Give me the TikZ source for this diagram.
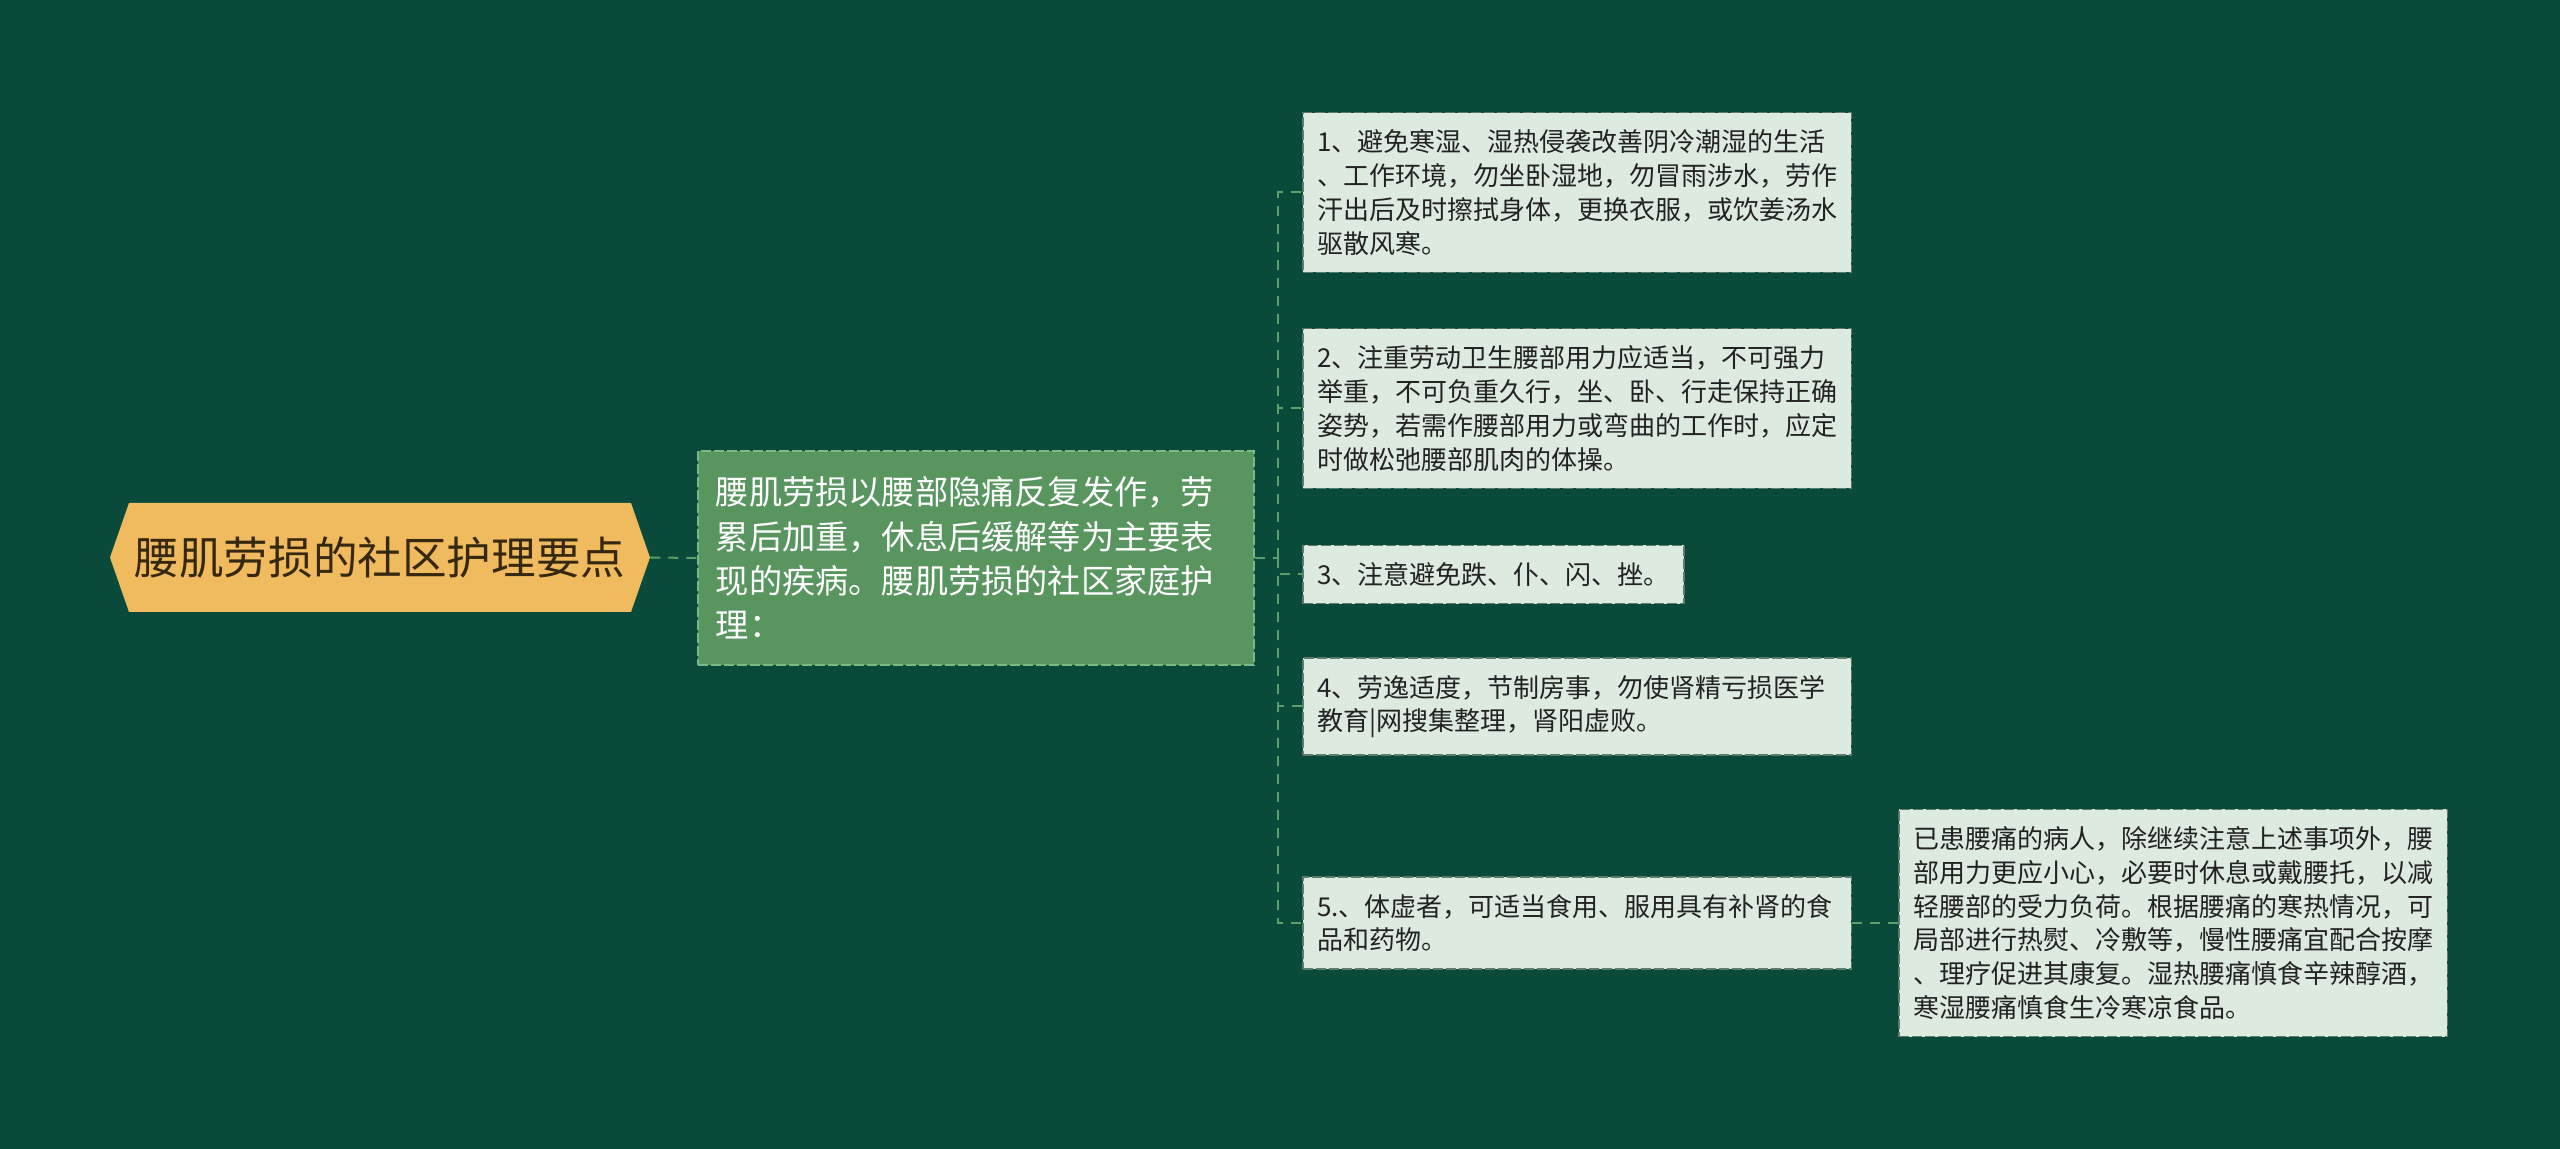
\documentclass[tikz,border=0pt]{standalone}
\usepackage{fontspec}
\newfontfamily\cjkfont{Noto Sans CJK SC}
\definecolor{bgGreen}{HTML}{0A4A3A}
\definecolor{rootFill}{HTML}{F0BB5E}
\definecolor{rootText}{HTML}{35280F}
\definecolor{mainFill}{HTML}{58955F}
\definecolor{mainEdge}{HTML}{7DB886}
\definecolor{leafFill}{HTML}{DDEAE0}
\definecolor{leafEdge}{HTML}{5E7A6A}
\definecolor{leafText}{HTML}{222222}
\definecolor{linkGreen}{HTML}{5FA06A}
\tikzset{
  link/.style={draw=linkGreen, line width=1pt, dash pattern=on 5pt off 4pt},
  leafbox/.style={draw=leafEdge, fill=leafFill, line width=0.8pt, dash pattern=on 5pt off 1.5pt,
    text=leafText, font=\cjkfont\fontsize{13}{16.9}\selectfont, align=left,
    inner xsep=7.25pt, inner ysep=8.5pt, anchor=west},
  fullleaf/.style={leafbox, text width=259.8pt},
  mainbox/.style={draw=mainEdge, fill=mainFill, line width=0.8pt, dash pattern=on 5pt off 1.5pt,
    text=white, font=\cjkfont\fontsize{16.6}{22.15}\selectfont, align=left,
    text width=260pt, inner xsep=9pt, minimum height=107pt, anchor=west},
}
\begin{document}
\begin{tikzpicture}[x=0.5pt,y=0.5pt,yscale=-1,xscale=1]
    \useasboundingbox (0,0) rectangle (2560,1149);
    \fill[bgGreen] (0,0) rectangle (2560,1149);
    %Shape: Hexagon
    \fill[rootFill] (110,557.5) -- (129,503) -- (631,503) -- (650,557.5) -- (631,612) -- (129,612) -- cycle;
    % Text Node
    \node[inner sep=0pt, minimum width=270pt, minimum height=54.5pt, text=rootText,
      font=\cjkfont\fontsize{22.3}{26}\selectfont] (root) at (380,557.5) {腰肌劳损的社区护理要点};
    % Text Node
    \node[mainbox] (main) at (697,558) {腰肌劳损以腰部隐痛反复发作，劳\\累后加重，休息后缓解等为主要表\\现的疾病。腰肌劳损的社区家庭护\\理：};
    % Text Node
    \node[fullleaf] (leaf1) at (1302,192.5) {1、避免寒湿、湿热侵袭改善阴冷潮湿的生活\\、工作环境，勿坐卧湿地，勿冒雨涉水，劳作\\汗出后及时擦拭身体，更换衣服，或饮姜汤水\\驱散风寒。};
    % Text Node
    \node[fullleaf] (leaf2) at (1302,408.5) {2、注重劳动卫生腰部用力应适当，不可强力\\举重，不可负重久行，坐、卧、行走保持正确\\姿势，若需作腰部用力或弯曲的工作时，应定\\时做松弛腰部肌肉的体操。};
    % Text Node
    \node[leafbox] (leaf3) at (1302,574.5) {3、注意避免跌、仆、闪、挫。};
    % Text Node
    \node[fullleaf] (leaf4) at (1302,706.5) {4、劳逸适度，节制房事，勿使肾精亏损医学\\教育|网搜集整理，肾阳虚败。};
    % Text Node
    \node[fullleaf] (leaf5) at (1302,923) {5.、体虚者，可适当食用、服用具有补肾的食\\品和药物。};
    % Text Node
    \node[fullleaf] (leaf6) at (1898,923) {已患腰痛的病人，除继续注意上述事项外，腰\\部用力更应小心，必要时休息或戴腰托，以减\\轻腰部的受力负荷。根据腰痛的寒热情况，可\\局部进行热熨、冷敷等，慢性腰痛宜配合按摩\\、理疗促进其康复。湿热腰痛慎食辛辣醇酒，\\寒湿腰痛慎食生冷寒凉食品。};
    % Connectors
    \coordinate (hub) at (1278,558);
    \draw[link] (root.east) -- (main.west);
    \draw[link] (main.east) -- (hub);
    \draw[link] (hub) |- (leaf1.west);
    \draw[link] (hub) |- (leaf2.west);
    \draw[link] (hub) |- (leaf3.west);
    \draw[link] (hub) |- (leaf4.west);
    \draw[link] (hub) |- (leaf5.west);
    \draw[link] (leaf5.east) -- (leaf6.west);
\end{tikzpicture}
\end{document}
